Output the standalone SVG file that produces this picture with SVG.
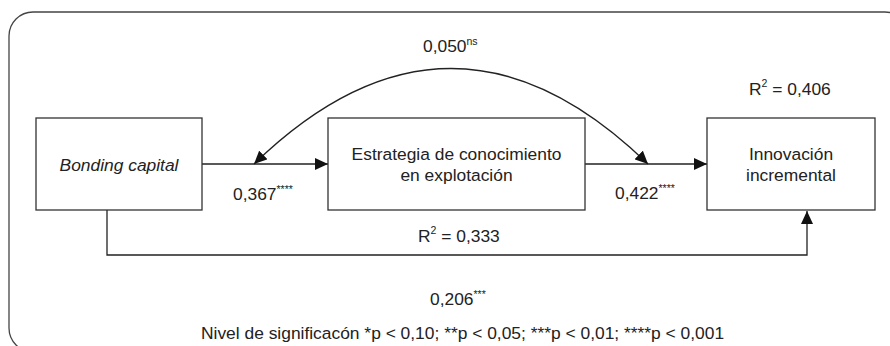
<svg xmlns="http://www.w3.org/2000/svg" width="890" height="346" viewBox="0 0 890 346">
<style>
  text { font-family: "Liberation Sans", Arial, sans-serif; font-size: 17.4px; fill: #222; }
  .sup { font-size: 10.5px; }
  .box { fill: #fff; stroke: #333; stroke-width: 1.3; }
  .edge { fill: none; stroke: #222; stroke-width: 1.3; }
  .frame { fill: none; stroke: #444; stroke-width: 1.3; }
</style>
<defs>
  <marker id="arr" markerUnits="userSpaceOnUse" markerWidth="14" markerHeight="12" refX="13" refY="6" orient="auto-start-reverse">
    <path d="M0,0 L13,6 L0,12 Z" fill="#111"/>
  </marker>
</defs>
<rect class="frame" x="9" y="12" width="900" height="340" rx="24" ry="24"/>

<g id="connectors">
  <path class="edge" d="M202,164 H328" marker-end="url(#arr)"/>
  <path class="edge" d="M585,164 H707" marker-end="url(#arr)"/>
  <path class="edge" d="M107,210 V255 H807 V211" marker-end="url(#arr)"/>
  <path class="edge" d="M254,164 Q451,-27 648,164" marker-start="url(#arr)" marker-end="url(#arr)"/>
</g>

<g id="bonding">
  <rect class="box" x="36" y="118" width="166" height="92"/>
  <text x="119" y="171" text-anchor="middle" font-style="italic">Bonding capital</text>
</g>
<g id="estrategia">
  <rect class="box" x="328" y="118" width="257" height="92"/>
  <text x="456.5" y="160" text-anchor="middle">Estrategia de conocimiento</text>
  <text x="456.5" y="181" text-anchor="middle">en explotación</text>
</g>
<g id="innovacion">
  <rect class="box" x="707" y="118" width="168" height="92"/>
  <text x="791" y="160" text-anchor="middle">Innovación</text>
  <text x="791" y="181" text-anchor="middle">incremental</text>
</g>

<g id="labels">
  <text x="423" y="52">0,050<tspan class="sup" dy="-7">ns</tspan></text>
  <text x="749" y="95">R<tspan class="sup" dy="-8">2</tspan><tspan dy="8"> = 0,406</tspan></text>
  <text x="233" y="200">0,367<tspan class="sup" dy="-7">****</tspan></text>
  <text x="615" y="199">0,422<tspan class="sup" dy="-7">****</tspan></text>
  <text x="418" y="242">R<tspan class="sup" dy="-8">2</tspan><tspan dy="8"> = 0,333</tspan></text>
  <text x="430" y="305">0,206<tspan class="sup" dy="-7">***</tspan></text>
  <text x="201" y="339">Nivel de significacón *p &lt; 0,10; **p &lt; 0,05; ***p &lt; 0,01; ****p &lt; 0,001</text>
</g>
</svg>
